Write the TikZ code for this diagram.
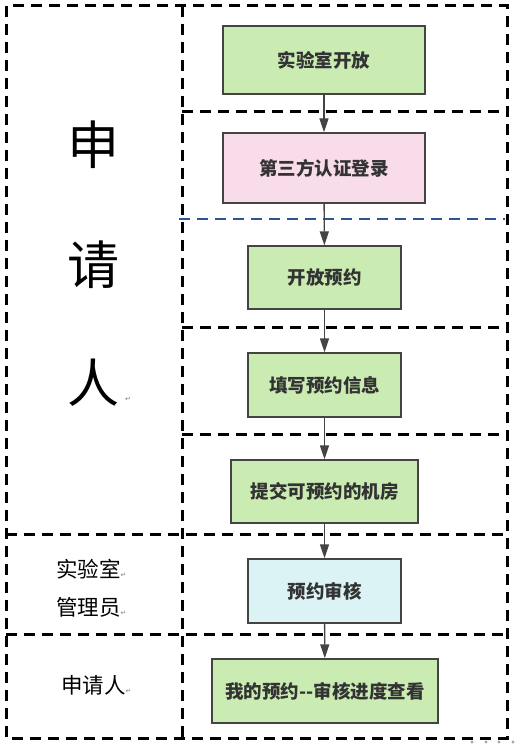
\documentclass[tikz,border=0pt]{standalone}
\usepackage{fontspec}
\setmainfont{Noto Sans CJK SC}
\newfontfamily\retfont{DejaVu Sans}
\usetikzlibrary{arrows.meta}
\definecolor{boxgreen}{RGB}{202,236,179}
\definecolor{boxpink}{RGB}{249,220,234}
\definecolor{boxcyan}{RGB}{219,243,245}
\definecolor{boxline}{RGB}{68,68,68}
\definecolor{laneblue}{RGB}{47,84,150}
\newcommand{\ret}{{\retfont\fontsize{7}{7}\selectfont\color{gray}↵}}

\begin{document}
\begin{tikzpicture}[x=1pt, y=-1pt,
  lane/.style={line width=3pt, dash pattern=on 11pt off 7pt},
  flowbox/.style={draw=boxline, line width=1.4pt, fill=boxgreen, text=black!80,
    font=\fontsize{18.5}{18.5}\selectfont\bfseries, minimum height=64pt, inner sep=0pt},
  flow/.style={draw=boxline, line width=1.4pt, -{Triangle[length=14pt,width=9pt]}},
  role/.style={font=\fontsize{21.5}{21.5}\selectfont, anchor=west, inner sep=0pt},
  bigrole/.style={font=\fontsize{52}{52}\selectfont, inner sep=0pt}]
\useasboundingbox (0,0) rectangle (519,746);
% lanes
\draw[lane] (6,6) rectangle (507,738);
\draw[lane] (182,6) -- (182,738);
\draw[lane] (182,112) -- (507,112);
\draw[lane, laneblue, line width=2.5pt] (179,219) -- (505,219);
\foreach \y in {327,434} \draw[lane] (182,\y) -- (507,\y);
\foreach \y in {534,634} \draw[lane] (6,\y) -- (507,\y);
% roles
\node[bigrole] (shen) at (93,145) {申};
\node[bigrole] (qing) at (93,265) {请};
\node[bigrole] (ren) at (93,383) {人};
\node[inner sep=0pt] (retA) at (128,399) {\ret};
\node[role] (adminA) at (56,569) {实验室\ret};
\node[role] (adminB) at (56,607) {管理员\ret};
\node[role] (user) at (61,685) {申请人\ret};
% steps
\node[flowbox, minimum width=202pt, minimum height=68pt] (labopen) at (324,60) {实验室开放};
\node[flowbox, fill=boxpink, minimum width=202pt, minimum height=70pt] (login) at (324,168) {第三方认证登录};
\node[flowbox, minimum width=153pt, minimum height=63pt] (bookopen) at (324.5,277.5) {开放预约};
\node[flowbox, minimum width=153pt] (fillin) at (324.5,385) {填写预约信息};
\node[flowbox, minimum width=187pt, minimum height=63pt] (submit) at (324.5,491.5) {提交可预约的机房};
\node[flowbox, fill=boxcyan, minimum width=153pt] (review) at (324.5,591) {预约审核};
\node[flowbox, minimum width=226pt] (mybook) at (325,691) {我的预约-{}-审核进度查看};
% arrows
\draw[flow] (labopen) -- (login);
\draw[flow] (login) -- (bookopen);
\draw[flow] (bookopen) -- (fillin);
\draw[flow] (fillin) -- (submit);
\draw[flow] (submit) -- (review);
\draw[flow] (review) -- (mybook);
% resize handle
\foreach \x in {472,486,499,513} \fill[gray!70] (\x,742) circle (1.6pt);
\end{tikzpicture}
\end{document}
